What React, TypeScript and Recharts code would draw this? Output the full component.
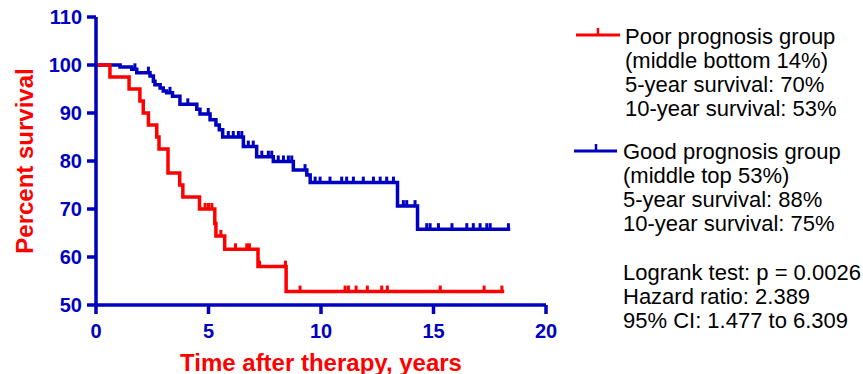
import { ComposedChart, Line, Scatter, XAxis, YAxis } from "recharts";

// Kaplan-Meier steps (time in years, percent surviving)
const poorTimes = [0, 0.62, 1.47, 1.95, 2.1, 2.33, 2.7, 2.8, 3.2, 3.72, 3.86, 4.6, 5.28, 5.33, 5.72, 7.2, 8.45, 18.14];
const poorSurvival = [100, 97.5, 95, 92.5, 90, 87.5, 85, 82.5, 77.5, 75, 72.5, 70, 67, 64.4, 61.6, 58, 52.8, 52.8];
const poorCensored = [4.85, 5.0, 5.15, 5.55, 6.2, 6.7, 6.82, 7.27, 8.42, 9.07, 11.07, 11.22, 11.56, 12.06, 12.7, 12.95, 15.3, 17.25, 18.04];

const goodTimes = [0, 1.07, 1.59, 1.81, 2.4, 2.55, 2.62, 2.85, 2.99, 3.14, 3.4, 3.73, 4.48, 4.62, 5.07, 5.33, 5.48, 5.63, 6.55, 7.14, 7.88, 8.77, 9.37, 9.52, 13.4, 14.29, 18.41];
const goodSurvival = [100, 99.6, 99.1, 98.4, 97.7, 96.6, 95.9, 95.2, 94.6, 94.2, 93.5, 91.8, 90.8, 89.8, 88.6, 87.5, 86.5, 85, 83, 80.9, 79.9, 78.1, 77.1, 75.5, 70.6, 65.8, 65.8];
const goodCensored = [1.73, 2.33, 3.29, 4.08, 4.99, 5.88, 6.1, 6.33, 6.48, 6.77, 6.99, 7.37, 7.66, 7.81, 8.1, 8.33, 8.55, 8.7, 9.29, 9.74, 9.96, 10.4, 10.92, 11.14, 11.44, 11.88, 12.33, 12.63, 12.92, 13.22, 13.66, 13.81, 14.18, 14.7, 14.85, 15.22, 15.82, 16.48, 16.77, 17.07, 17.37, 17.52, 18.33];

const xTicks = [0, 5, 10, 15, 20];
const yTicks = [50, 60, 70, 80, 90, 100, 110];

const poorLegend = ["Poor prognosis group", "(middle bottom 14%)", "5-year survival: 70%", "10-year survival: 53%"];
const goodLegend = ["Good prognosis group", "(middle top 53%)", "5-year survival: 88%", "10-year survival: 75%"];
const statsLines = ["Logrank test: p = 0.0026", "Hazard ratio: 2.389", "95% CI: 1.477 to 6.309"];

const RED = "#ff0000";
const BLUE = "#0000c0";
const FONT = "'Liberation Sans', Arial, Helvetica, sans-serif";

const steps = (times: number[], surv: number[]) => times.map((t, i) => ({ t, s: surv[i] }));

// value of the KM curve at a censoring time
const censorPoints = (times: number[], surv: number[], cens: number[]) =>
  cens.map((c) => {
    let s = surv[0];
    times.forEach((t, i) => {
      if (t <= c) s = surv[i];
    });
    return { t: c, s };
  });

const poorData = steps(poorTimes, poorSurvival);
const goodData = steps(goodTimes, goodSurvival);
const poorCens = censorPoints(poorTimes, poorSurvival, poorCensored);
const goodCens = censorPoints(goodTimes, goodSurvival, goodCensored);

const censorTick = (color: string) => (props: any) => (
  <line x1={props.cx} y1={props.cy} x2={props.cx} y2={props.cy - 6} stroke={color} strokeWidth={3} />
);

const textBlock = (lines: string[], left: number, top: number) => (
  <div
    style={{
      position: "absolute",
      left,
      top,
      fontFamily: FONT,
      fontSize: 22,
      lineHeight: "24px",
      color: "#000",
      whiteSpace: "nowrap",
    }}
  >
    {lines.map((l) => (
      <div key={l}>{l}</div>
    ))}
  </div>
);

export default function App() {
  return (
    <div style={{ position: "absolute", left: 0, top: 0, width: 863, height: 374, background: "#fff" }}>
      <ComposedChart width={863} height={374} margin={{ top: 17, right: 317, bottom: 0, left: 36 }}>
        <XAxis
          dataKey="t"
          type="number"
          domain={[0, 20]}
          ticks={xTicks}
          height={69}
          axisLine={{ stroke: BLUE, strokeWidth: 3.5 }}
          tickLine={{ stroke: BLUE, strokeWidth: 3.5 }}
          tickSize={9}
          tickMargin={10}
          tick={{ fill: BLUE, fontSize: 20, fontWeight: "bold", fontFamily: FONT }}
          label={{
            content: ({ viewBox }: any) => (
              <text
                x={viewBox.x + viewBox.width / 2}
                y={362}
                textAnchor="middle"
                dominantBaseline="central"
                fill={RED}
                fontSize={24}
                fontWeight="bold"
                fontFamily={FONT}
              >
                Time after therapy, years
              </text>
            ),
          }}
        />
        <YAxis
          type="number"
          domain={[50, 110]}
          ticks={yTicks}
          width={60}
          allowDataOverflow
          axisLine={{ stroke: BLUE, strokeWidth: 3.5 }}
          tickLine={{ stroke: BLUE, strokeWidth: 3.5 }}
          tickSize={9}
          tickMargin={5}
          tick={{ fill: BLUE, fontSize: 20, fontWeight: "bold", fontFamily: FONT }}
          label={{
            content: ({ viewBox }: any) => {
              const cy = viewBox.y + viewBox.height / 2;
              return (
                <text
                  x={24}
                  y={cy}
                  transform={`rotate(-90 24 ${cy})`}
                  textAnchor="middle"
                  dominantBaseline="central"
                  fill={RED}
                  fontSize={24}
                  fontWeight="bold"
                  fontFamily={FONT}
                >
                  Percent survival
                </text>
              );
            },
          }}
        />
        <Line data={goodData} dataKey="s" type="stepAfter" stroke={BLUE} strokeWidth={3.5} dot={false} isAnimationActive={false} strokeLinejoin="miter" />
        <Line data={poorData} dataKey="s" type="stepAfter" stroke={RED} strokeWidth={3.5} dot={false} isAnimationActive={false} strokeLinejoin="miter" />
        <Scatter data={goodCens} dataKey="s" shape={censorTick(BLUE)} isAnimationActive={false} />
        <Scatter data={poorCens} dataKey="s" shape={censorTick(RED)} isAnimationActive={false} />
      </ComposedChart>

      <svg style={{ position: "absolute", left: 0, top: 0 }} width={863} height={374}>
        <line x1={576} y1={35} x2={620} y2={35} stroke={RED} strokeWidth={3} />
        <line x1={598} y1={35} x2={598} y2={28} stroke={RED} strokeWidth={2.5} />
        <line x1={574} y1={151} x2={617} y2={151} stroke={BLUE} strokeWidth={3} />
        <line x1={596} y1={151} x2={596} y2={144} stroke={BLUE} strokeWidth={2.5} />
      </svg>
      {textBlock(poorLegend, 625, 25)}
      {textBlock(goodLegend, 623, 140)}
      {textBlock(statsLines, 623, 261)}
    </div>
  );
}
